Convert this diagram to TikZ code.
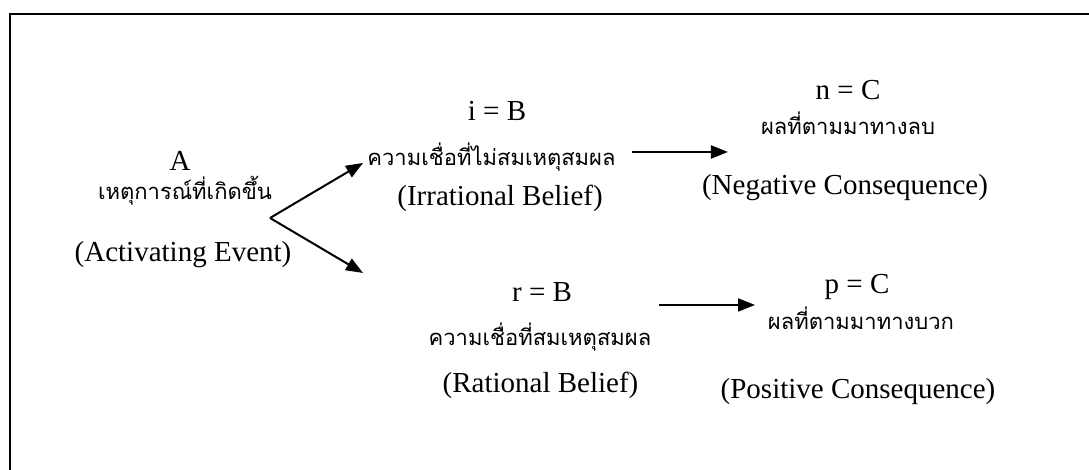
\documentclass[tikz,border=0pt]{standalone}
\usepackage{fontspec}
\setmainfont{Liberation Serif}
\newfontfamily\thaifont[Script=Thai]{Loma}
\usetikzlibrary{arrows.meta, calc}

\begin{document}
\begin{tikzpicture}[
    txt/.style={font=\fontsize{14.5}{16}\selectfont, inner sep=0pt},
    thai/.style={font=\thaifont\fontsize{11}{13}\selectfont, inner sep=0pt},
    arrow/.style={-{Triangle[length=8.5pt, width=6.5pt]}, line width=1pt},
    frame/.style={line width=1pt}
]
\useasboundingbox (0,0) rectangle (19.137,8.259);
% Frame
\coordinate (fbl) at (0.176,0);
\coordinate (ftl) at (0.176,8.013);
\coordinate (ftr) at (19.137,8.013);
\draw[frame] (fbl) -- (ftl) -- (ftr);
% Activating event
\node[txt] (a) at (3.163,5.430) {A};
\node[thai] (athai) at (3.251,4.900) {เหตุการณ์ที่เกิดขึ้น};
\node[txt] (aeng) at (3.216,3.778) {(Activating Event)};
% Irrational belief
\node[txt] (ib) at (8.734,6.309) {i = B};
\node[thai] (ibthai) at (8.637,5.500) {ความเชื่อที่ไม่สมเหตุสมผล};
\node[txt] (ibeng) at (8.787,4.780) {(Irrational Belief)};
% Rational belief
\node[txt] (rb) at (9.525,3.128) {r = B};
\node[thai] (rbthai) at (9.489,2.337) {ความเชื่อที่สมเหตุสมผล};
\node[txt] (rbeng) at (9.498,1.494) {(Rational Belief)};
% Negative consequence
\node[txt] (nc) at (14.902,6.678) {n = C};
\node[thai] (ncthai) at (14.902,6.098) {ผลที่ตามมาทางลบ};
\node[txt] (nceng) at (14.849,4.956) {(Negative Consequence)};
% Positive consequence
\node[txt] (pc) at (15.060,3.216) {p = C};
\node[thai] (pcthai) at (15.13,2.671) {ผลที่ตามมาทางบวก};
\node[txt] (pceng) at (15.078,1.371) {(Positive Consequence)};
% Arrows
\coordinate (fork) at (4.745,4.428);
\coordinate (tipup) at (6.379,5.395);
\coordinate (tipdown) at (6.379,3.462);
\coordinate (ibout) at (11.106,5.588);
\coordinate (ncin) at (12.793,5.588);
\coordinate (rbout) at (11.581,2.900);
\coordinate (pcin) at (13.268,2.900);
\draw[arrow] (fork) -- (tipup);
\draw[arrow] (fork) -- (tipdown);
\draw[arrow] (ibout) -- (ncin);
\draw[arrow] (rbout) -- (pcin);
\end{tikzpicture}
\end{document}
